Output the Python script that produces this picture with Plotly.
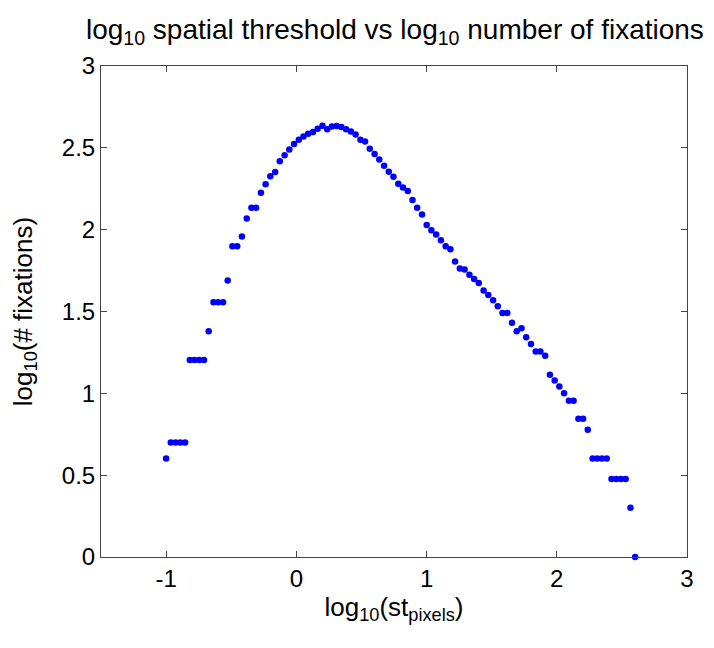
import plotly.graph_objects as go

# log10 spatial threshold (pixels)
x_vals = [
    -1.000, -0.964, -0.927, -0.891, -0.854, -0.818, -0.782, -0.745, -0.709, -0.673,
    -0.636, -0.600, -0.563, -0.527, -0.491, -0.454, -0.418, -0.381, -0.345, -0.309,
    -0.272, -0.236, -0.200, -0.163, -0.127, -0.090, -0.054, -0.018, 0.019, 0.055,
    0.091, 0.128, 0.164, 0.201, 0.237, 0.273, 0.310, 0.346, 0.382, 0.419,
    0.455, 0.492, 0.528, 0.564, 0.601, 0.637, 0.674, 0.710, 0.746, 0.783,
    0.819, 0.856, 0.892, 0.928, 0.965, 1.001, 1.037, 1.074, 1.110, 1.147,
    1.183, 1.219, 1.256, 1.292, 1.329, 1.365, 1.401, 1.438, 1.474, 1.511,
    1.547, 1.583, 1.620, 1.656, 1.692, 1.729, 1.765, 1.802, 1.838, 1.874,
    1.911, 1.947, 1.984, 2.020, 2.056, 2.093, 2.129, 2.166, 2.202, 2.238,
    2.275, 2.311, 2.347, 2.384, 2.420, 2.457, 2.493, 2.529, 2.566, 2.602,
]

# log10 number of fixations
y_vals = [
    0.602, 0.699, 0.699, 0.699, 0.699, 1.204, 1.204, 1.204, 1.204, 1.380,
    1.556, 1.556, 1.556, 1.690, 1.898, 1.898, 1.959, 2.068, 2.134, 2.134,
    2.226, 2.277, 2.326, 2.352, 2.418, 2.454, 2.490, 2.523, 2.550, 2.570,
    2.586, 2.596, 2.617, 2.635, 2.613, 2.631, 2.633, 2.627, 2.614, 2.600,
    2.582, 2.550, 2.539, 2.495, 2.462, 2.428, 2.391, 2.354, 2.324, 2.281,
    2.257, 2.236, 2.181, 2.134, 2.093, 2.028, 1.996, 1.971, 1.935, 1.898,
    1.880, 1.806, 1.763, 1.756, 1.725, 1.699, 1.674, 1.629, 1.601, 1.568,
    1.532, 1.491, 1.491, 1.431, 1.380, 1.398, 1.342, 1.301, 1.255, 1.255,
    1.230, 1.114, 1.079, 1.041, 1.000, 0.954, 0.954, 0.845, 0.845, 0.778,
    0.602, 0.602, 0.602, 0.602, 0.477, 0.477, 0.477, 0.477, 0.301, 0.000,
]

x_ticks = [-1, 0, 1, 2, 3]
x_tick_labels = ["-1", "0", "1", "2", "3"]
y_ticks = [0, 0.5, 1, 1.5, 2, 2.5, 3]
y_tick_labels = ["0", "0.5", "1", "1.5", "2", "2.5", "3"]

FONT = "Liberation Sans, Arial, Helvetica, sans-serif"

fig = go.Figure()
fig.add_trace(go.Scatter(
    x=x_vals, y=y_vals, mode="markers",
    marker=dict(color="#0000FF", size=6.5, line=dict(width=0)),
    showlegend=False, cliponaxis=False,
))

axis_common = dict(
    showgrid=False, zeroline=False, showline=True, linecolor="#444444",
    linewidth=1, mirror="ticks", ticks="inside", ticklen=6, tickcolor="#444444",
    tickfont=dict(family=FONT, size=24, color="black"),
)

fig.update_layout(
    width=706, height=640,
    margin=dict(l=93, r=27, t=58, b=91),
    paper_bgcolor="white", plot_bgcolor="white",
    font=dict(family=FONT, color="black"),
    title=dict(
        text="log<sub>10</sub> spatial threshold vs log<sub>10</sub> number of fixations",
        xref="container", x=0.548, xanchor="center",
        yref="container", y=0.982, yanchor="top",
        font=dict(family=FONT, size=28, color="black"),
    ),
    xaxis=dict(
        range=[-1.5, 3], tickvals=x_ticks, ticktext=x_tick_labels,
        title=dict(text="log<sub>10</sub>(st<sub>pixels</sub>)",
                   font=dict(family=FONT, size=26, color="black"), standoff=6),
        **axis_common,
    ),
    yaxis=dict(
        range=[0, 3], tickvals=y_ticks, ticktext=y_tick_labels,
        title=dict(text="log<sub>10</sub>(# fixations)",
                   font=dict(family=FONT, size=26, color="black"), standoff=22),
        **axis_common,
    ),
)

fig.write_html("out.html")
